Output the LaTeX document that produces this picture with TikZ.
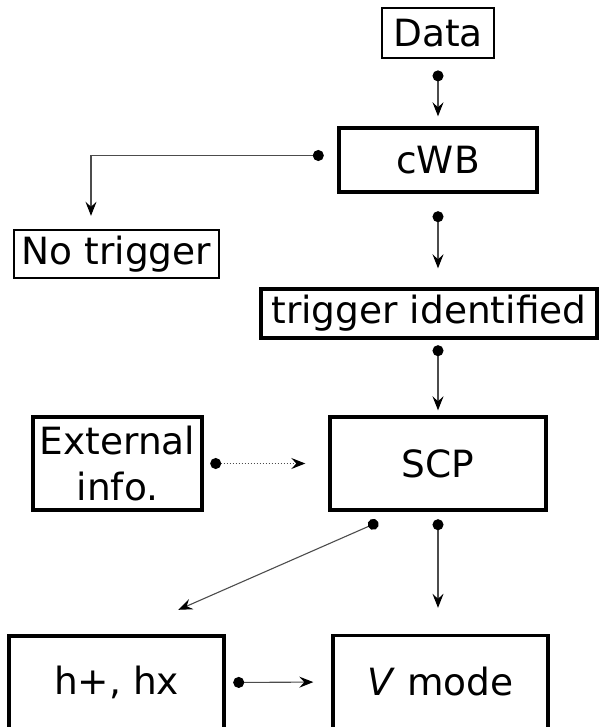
\documentclass[tikz,border=0pt]{standalone}
\usepackage{fontspec}
\setmainfont{DejaVu Sans}
\usetikzlibrary{arrows.meta,positioning}

\begin{document}
\begin{tikzpicture}[x=1pt,y=-1pt,
  every node/.style={inner sep=0pt, font=\fontsize{37.5}{46}\selectfont},
  box/.style={draw, line width=3.4pt},
  link/.style={line width=1.1pt, draw=black!70,
    {Circle[length=11pt,color=black]}-{Stealth[length=14pt,width=11pt,inset=5pt,color=black]}},
]
\clip (0,0) rectangle (599,727);
\node[box, line width=1.8pt, minimum width=112pt, minimum height=50pt] (data) at (438,33) {Data};
\node[box, minimum width=198pt, minimum height=64pt] (cwb) at (438,160) {cWB};
\node[box, line width=2.4pt, minimum width=205pt, minimum height=48pt] (notrig) at (116.5,254) {No trigger};
\node[box, minimum width=336pt, minimum height=49pt] (trig) at (429,313.5) {trigger identified};
\node[box, align=center, minimum width=169pt, minimum height=93pt] (ext) at (117.5,463.5) {External\\info.};
\node[box, minimum width=216pt, minimum height=93pt] (scp) at (438,463.5) {SCP};
\node[box, minimum width=215pt, minimum height=93pt] (hpol) at (116.5,682.5) {h+, hx};
\node[box, minimum width=215pt, minimum height=93pt] (vmode) at (440.5,682) {\textit{V} mode};

\draw[link, shorten <=11.5pt, shorten >=10pt] (data.south) -- (cwb.north);
\draw[link, shorten <=13.5pt, shorten >=13pt] ([yshift=4.5pt]cwb.west) -| ([xshift=-25.5pt]notrig.north);
\draw[link, shorten <=17.5pt, shorten >=19pt] (cwb.south) -- (cwb.south |- trig.north);
\draw[link, shorten <=5.5pt, shorten >=5pt] (trig.south -| scp.north) -- (scp.north);
\draw[link, dash pattern=on 1.5pt off 1.5pt, shorten <=6.5pt, shorten >=23pt] (ext.east) -- (scp.west);
\draw[link, shorten <=26pt, shorten >=61pt] ([xshift=-36pt]scp.south) -- ([xshift=6pt]hpol.north);
\draw[link, shorten <=7.5pt, shorten >=26pt] (scp.south) -- (scp.south |- vmode.north);
\draw[link, shorten <=7.5pt, shorten >=18pt] (hpol.east) -- (vmode.west);
\end{tikzpicture}
\end{document}
